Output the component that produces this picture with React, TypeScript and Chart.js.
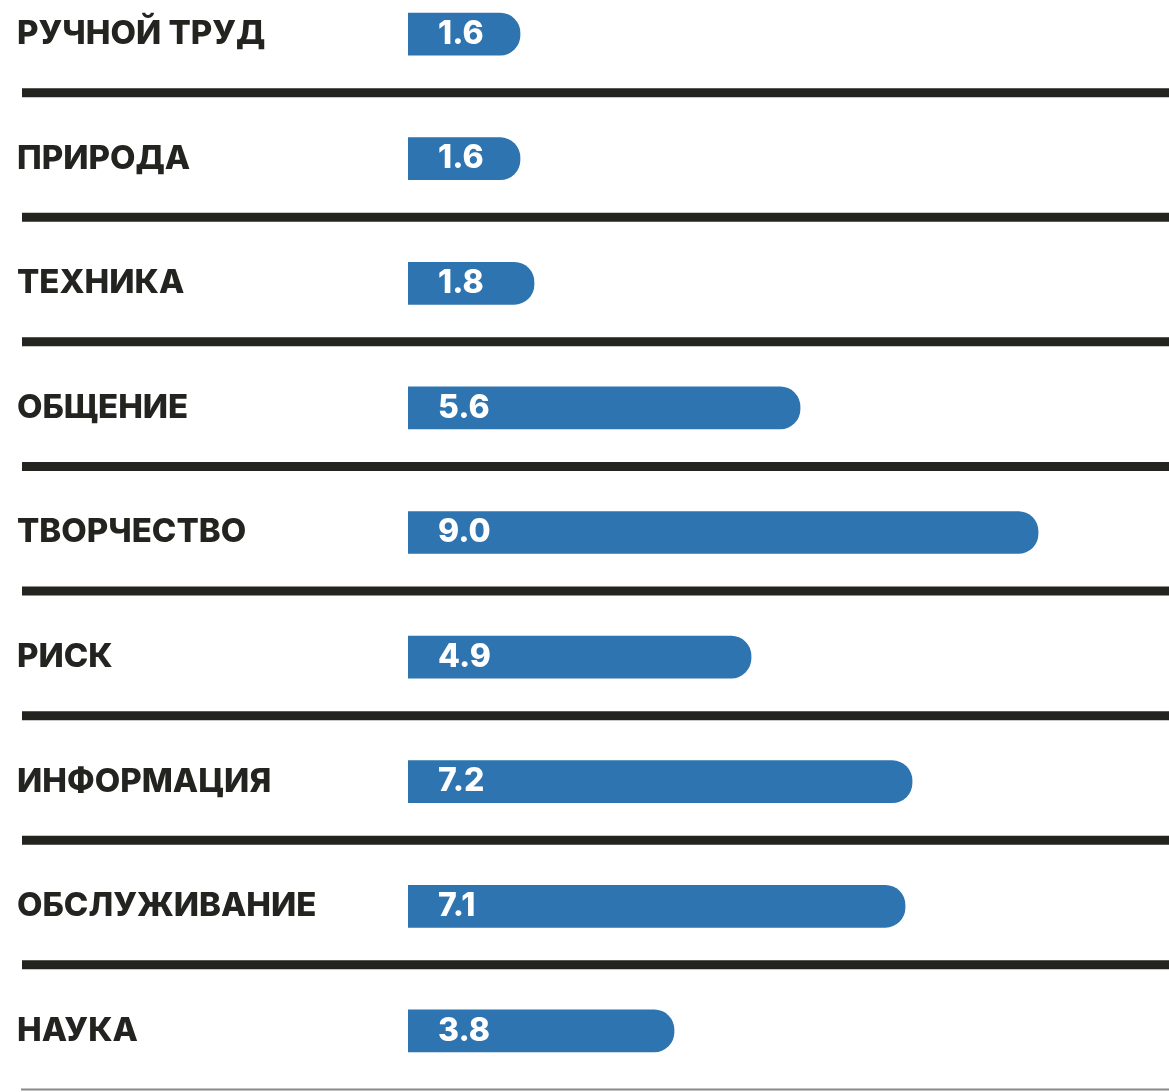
import React, { useEffect, useRef } from "react";
import { Chart, registerables } from "chart.js";

Chart.register(...registerables);

const categories: string[] = [
  "РУЧНОЙ ТРУД",
  "ПРИРОДА",
  "ТЕХНИКА",
  "ОБЩЕНИЕ",
  "ТВОРЧЕСТВО",
  "РИСК",
  "ИНФОРМАЦИЯ",
  "ОБСЛУЖИВАНИЕ",
  "НАУКА",
];

const values: number[] = [1.6, 1.6, 1.8, 5.6, 9.0, 4.9, 7.2, 7.1, 3.8];

const FONT = "'Inter', 'Open Sans', 'DejaVu Sans', sans-serif";

const separatorPlugin = {
  id: "separators",
  afterDraw(chart: any) {
    const y = chart.scales.y;
    const ctx = chart.ctx;
    const n = categories.length;
    const band = y.getPixelForValue(1) - y.getPixelForValue(0);
    ctx.save();
    for (let i = 0; i < n; i++) {
      const py = y.getPixelForValue(i) + band * 0.47;
      ctx.beginPath();
      if (i < n - 1) {
        ctx.strokeStyle = "#23231f";
        ctx.lineWidth = 9;
        ctx.moveTo(22, py);
      } else {
        ctx.strokeStyle = "#888888";
        ctx.lineWidth = 2;
        ctx.moveTo(21, py);
      }
      ctx.lineTo(chart.width, py);
      ctx.stroke();
    }
    ctx.restore();
  },
};

const valueLabelPlugin = {
  id: "valueLabels",
  afterDatasetsDraw(chart: any) {
    const meta = chart.getDatasetMeta(0);
    const ctx = chart.ctx;
    ctx.save();
    ctx.fillStyle = "#ffffff";
    ctx.font = `800 32px ${FONT}`;
    ctx.textAlign = "left";
    ctx.textBaseline = "middle";
    meta.data.forEach((bar: any, i: number) => {
      const v = chart.data.datasets[0].data[i] as number;
      ctx.fillText(v.toFixed(1), bar.base + 30, bar.y);
    });
    ctx.restore();
  },
};

export default function App() {
  const ref = useRef<HTMLCanvasElement | null>(null);

  useEffect(() => {
    if (!ref.current) return;
    const chart = new Chart(ref.current, {
      type: "bar",
      data: {
        labels: categories,
        datasets: [
          {
            data: values,
            backgroundColor: "#2e74b0",
            borderWidth: 0,
            barThickness: 42,
            borderSkipped: "start",
            borderRadius: { topLeft: 0, bottomLeft: 0, topRight: 20, bottomRight: 20 },
          },
        ],
      },
      options: {
        indexAxis: "y",
        animation: false,
        responsive: true,
        maintainAspectRatio: false,
        layout: { padding: { left: 17, right: 0, top: 0, bottom: 0 } },
        plugins: {
          legend: { display: false },
          tooltip: { enabled: false },
        },
        scales: {
          x: {
            display: false,
            min: 0,
            max: 10.87,
          },
          y: {
            grid: { display: false },
            border: { display: false },
            afterFit: (scale: any) => {
              scale.width = 391;
            },
            ticks: {
              crossAlign: "far",
              padding: 0,
              color: "#23231f",
              font: { family: FONT, size: 33, weight: "800" as any, lineHeight: 1.2 },
            },
          },
        },
      },
      plugins: [separatorPlugin, valueLabelPlugin],
    });
    return () => chart.destroy();
  }, []);

  return (
    <div
      style={{
        position: "fixed",
        left: 0,
        top: 0,
        width: 1169,
        height: 1092,
        overflow: "hidden",
        background: "#ffffff",
      }}
    >
      <div style={{ position: "absolute", left: 0, top: -48, width: 1169, height: 1161 }}>
        <canvas ref={ref} />
      </div>
    </div>
  );
}
